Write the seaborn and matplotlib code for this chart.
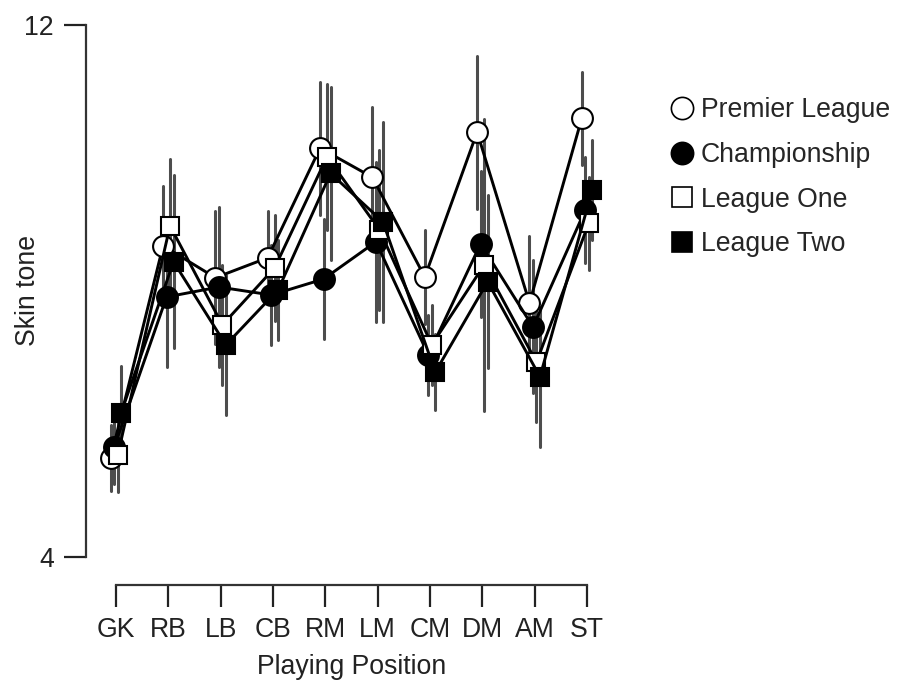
import matplotlib
matplotlib.use("Agg")
import matplotlib.pyplot as plt
from matplotlib.lines import Line2D
import seaborn as sns
import pandas as pd
import numpy as np

positions = ["GK", "RB", "LB", "CB", "RM", "LM", "CM", "DM", "AM", "ST"]
leagues = ["Premier League", "Championship", "League One", "League Two"]

premier = [5.49, 8.68, 8.20, 8.50, 10.15, 9.71, 8.21, 10.39, 7.82, 10.60]
championship = [5.65, 7.91, 8.06, 7.94, 8.18, 8.74, 7.04, 8.71, 7.46, 9.22]
league_one = [5.53, 8.98, 7.49, 8.35, 10.02, 8.92, 7.19, 8.39, 6.93, 9.02]
league_two = [6.17, 8.44, 7.19, 8.02, 9.77, 9.04, 6.78, 8.14, 6.71, 9.52]

premier_err = [0.50, 0.90, 1.00, 0.70, 1.00, 1.05, 0.70, 1.15, 1.00, 0.70]
championship_err = [0.55, 1.05, 1.20, 0.75, 0.90, 1.20, 0.60, 1.10, 1.00, 0.80]
league_one_err = [0.55, 1.00, 0.90, 0.80, 1.10, 1.20, 0.60, 2.20, 0.90, 0.70]
league_two_err = [0.70, 1.30, 1.05, 0.75, 1.30, 1.50, 0.57, 1.30, 1.05, 0.75]

values = [premier, championship, league_one, league_two]
errors = [premier_err, championship_err, league_one_err, league_two_err]

rows = []
for lg, vals, errs in zip(leagues, values, errors):
    for pos, v, e in zip(positions, vals, errs):
        rows.append({"Position": pos, "League": lg, "Skin": v - e})
        rows.append({"Position": pos, "League": lg, "Skin": v + e})
df = pd.DataFrame(rows)

sns.set_style("ticks")
plt.rcParams["font.family"] = ["Liberation Sans", "DejaVu Sans"]

FS = 19.2
TXT = "#222222"

fig = plt.figure(figsize=(9, 6.87), dpi=100)
ax = fig.add_axes([95 / 900, (687 - 557) / 687, 513 / 900, 532 / 687])

sns.pointplot(
    data=df, x="Position", y="Skin", hue="League",
    order=positions, hue_order=leagues,
    palette=["black"] * 4, markers=["o", "o", "s", "s"], linestyles="-",
    dodge=0.2, errorbar=lambda x: (x.min(), x.max()), capsize=0,
    err_kws={"color": "0.3", "linewidth": 2.2},
    markersize=14, linewidth=2.1, ax=ax,
)

series_lines = [l for l in ax.lines if l.get_marker() not in (None, "None", "", " ")]
face = ["white", "black", "white", "black"]
msize = [15, 15, 13.5, 13.5]
for i, l in enumerate(series_lines):
    l.set_markerfacecolor(face[i % 4])
    l.set_markeredgecolor("black")
    l.set_markeredgewidth(1.5)
    l.set_markersize(msize[i % 4])
    l.set_zorder(3 + i * 0.1)
for l in ax.lines:
    if l not in series_lines:
        l.set_zorder(2)

if ax.get_legend() is not None:
    ax.get_legend().remove()

ax.set_xlim(-0.4, 9.4)
ax.set_ylim(4, 12)
ax.set_yticks([4, 12])
ax.set_yticklabels(["4", "12"])
ax.set_xlabel("Playing Position", fontsize=FS, color=TXT)
ax.set_ylabel("Skin tone", fontsize=FS, color=TXT)
ax.xaxis.set_label_coords(0.5, -0.183)
ax.yaxis.set_label_coords(-0.105, 0.5)
ax.tick_params(axis="both", labelsize=FS, colors=TXT, width=1.6, length=16, pad=7)

sns.despine(ax=ax, offset={"left": 6.5, "bottom": 20})
ax.spines["bottom"].set_bounds(0, 9)
ax.spines["left"].set_bounds(4, 12)
for s in ("left", "bottom"):
    ax.spines[s].set_linewidth(1.6)
    ax.spines[s].set_color("#333333")

handles = []
for lg, m, f in zip(leagues, ["o", "o", "s", "s"], face):
    handles.append(Line2D([], [], marker=m, linestyle="None", markersize=16 if m == "o" else 15,
                          markerfacecolor=f, markeredgecolor="black", markeredgewidth=1.2))
fig.legend(handles, leagues, loc="upper left", bbox_to_anchor=(0.731, 0.874),
           frameon=False, fontsize=FS, handletextpad=0.2, labelspacing=0.7,
           handlelength=1.0, borderaxespad=0)

fig.savefig("out.png", dpi=100)
